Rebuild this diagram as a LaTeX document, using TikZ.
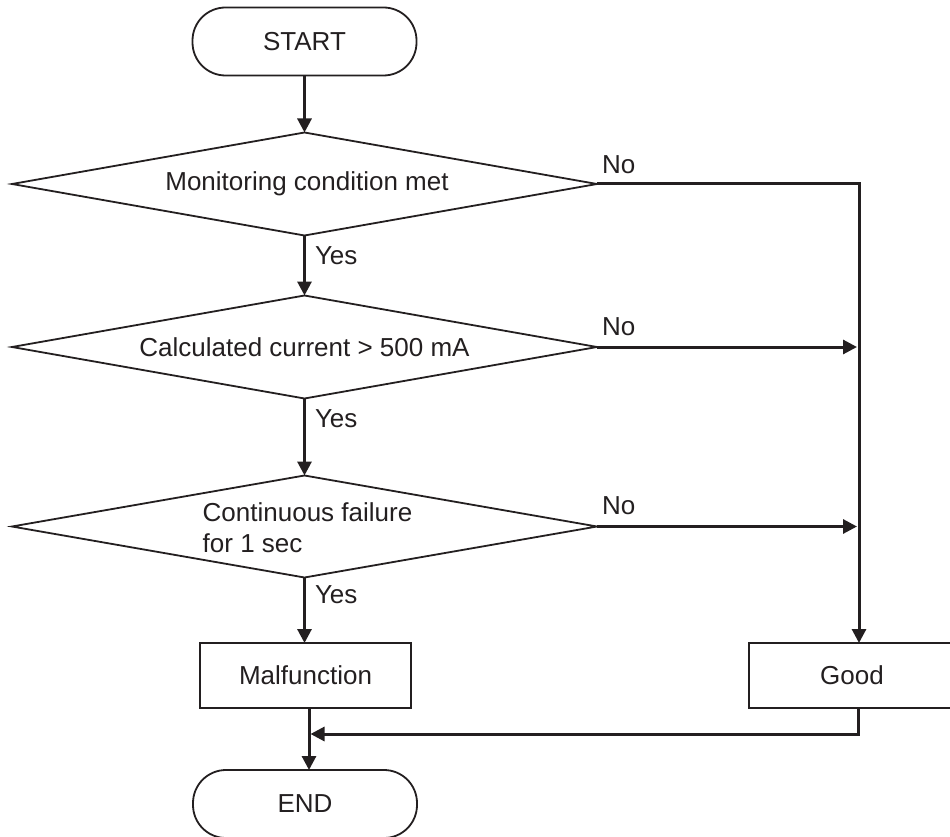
\documentclass[tikz,border=0pt]{standalone}
\usepackage{fontspec}
\setmainfont{Liberation Sans}
\usetikzlibrary{shapes.geometric,arrows.meta}
\definecolor{ink}{HTML}{231F20}
\begin{document}
\begin{tikzpicture}[x=1pt,y=-1pt,
  every node/.style={font=\fontsize{26}{31.5}\selectfont, text=ink, outer sep=0pt},
  dia/.style={diamond, shape aspect=5.7, draw=ink, line width=1.8pt, inner sep=0pt, minimum width=585pt, minimum height=103pt},
  box/.style={rectangle, draw=ink, line width=1.8pt, inner sep=0pt},
  term/.style={rectangle, draw=ink, line width=1.8pt, rounded corners=33pt, inner sep=0pt, minimum width=224pt, minimum height=68pt},
  lbl/.style={anchor=base west, inner sep=0pt},
  conn/.style={draw=ink, line width=3pt},
  arr/.style={conn, -{Triangle[length=14pt,width=14pt]}}
]
\useasboundingbox (0,0) rectangle (950,837);
\node[term] (start) at (304.5,41.5) {START};
\node[dia] (d1) at (304.5,184) {\hspace*{5pt}Monitoring condition met};
\node[dia] (d2) at (304.5,347) {Calculated current > 500 mA};
\node[dia, minimum height=102pt] (d3) at (304.5,526.5) {\hspace*{6pt}\raisebox{-4pt}[\height][\depth]{\begin{tabular}{@{}l@{}}Continuous failure\\for 1 sec\end{tabular}}};
\node[box, minimum width=211pt, minimum height=65pt] (mal) at (305.5,675.5) {Malfunction};
\node[box, minimum width=206pt, minimum height=65pt] (good) at (852,675.5) {Good};
\node[term] (end) at (305,804) {END};

\coordinate (col) at (859,184);
\coordinate (j) at (309,734);

\draw[arr] (start.south) -- (d1.north);
\draw[arr] (d1.south) -- (d2.north);
\draw[arr] (d2.south) -- (d3.north);
\draw[arr] (d3.south) -- (d3.south |- mal.north);
\draw[arr] (d1.east) -| (col |- good.north);
\draw[arr, shorten >=2pt] (d2.east) -- (col |- d2.east);
\draw[arr, shorten >=2pt] (d3.east) -- (col |- d3.east);
\draw[arr] (j |- mal.south) -- (j |- end.north);
\draw[arr, shorten >=1.5pt] (858,708) |- (j);

\node[lbl] (no1) at (602,173.3) {No};
\node[lbl] (no2) at (602,335.7) {No};
\node[lbl] (no3) at (602,514) {No};
\node[lbl] (yes1) at (315,264.3) {Yes};
\node[lbl] (yes2) at (315,427) {Yes};
\node[lbl] (yes3) at (315,603) {Yes};
\end{tikzpicture}
\end{document}
